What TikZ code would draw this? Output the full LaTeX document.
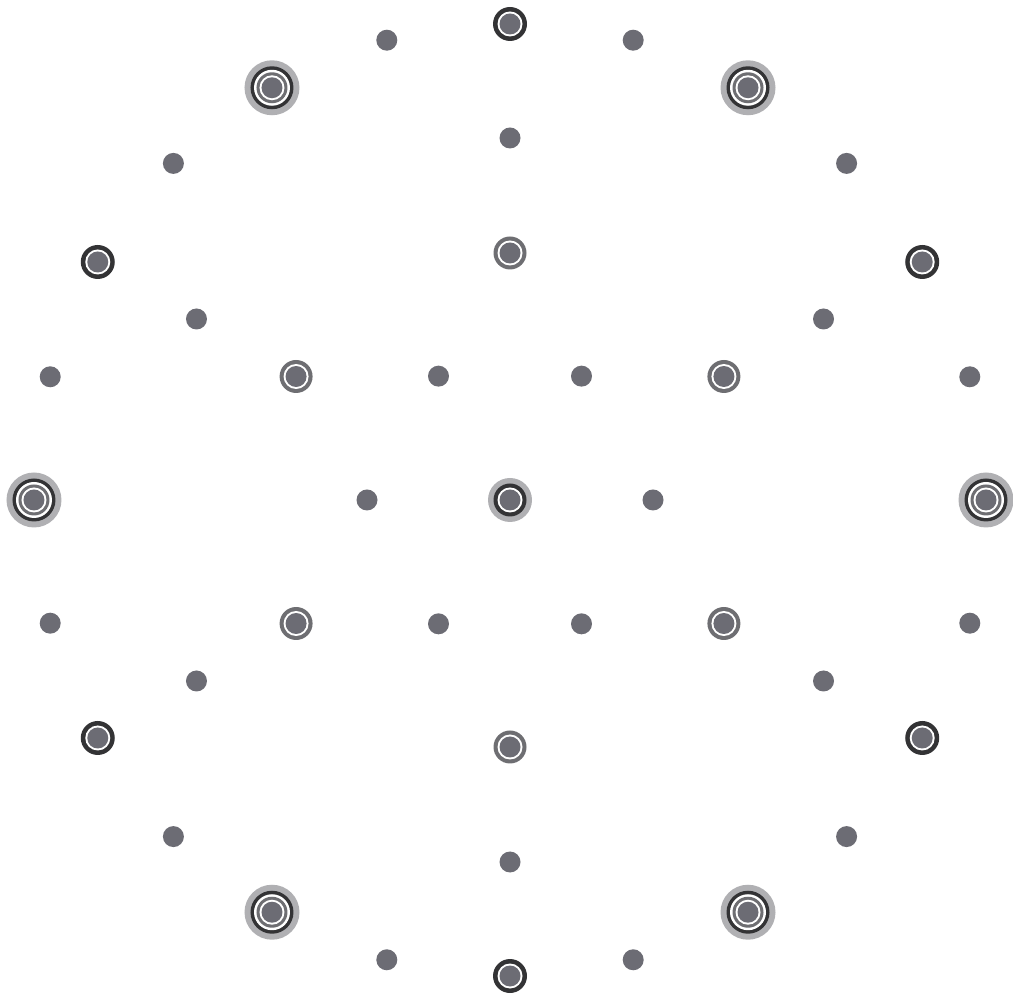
\documentclass[tikz,border=0pt]{standalone}
\usepackage{tikz}

\definecolor{dotgray}{HTML}{6C6C74}
\definecolor{ringdark}{HTML}{333335}
\definecolor{ringgray}{HTML}{6E6E72}
\definecolor{halogray}{HTML}{B0B0B3}

\begin{document}
\begin{tikzpicture}[
    x=0.01cm, y=0.01cm,
    dot/.style={fill=dotgray},
    gap/.style={fill=white},
    darkring/.style={fill=ringdark},
    grayring/.style={fill=ringgray},
    halo/.style={fill=halogray}
]
\useasboundingbox (-510,-504) rectangle (503,500);
% centre
\coordinate (c0) at (0,0);
% inner hexagon
\foreach \i in {0,...,5}{\coordinate (h\i) at (60*\i:143);}
% middle rings
\foreach \i in {0,...,5}{\coordinate (g\i) at (30+60*\i:247); \coordinate (m\i) at (30+60*\i:362);}
% outer ring
\foreach \i in {0,...,5}{\coordinate (d\i) at (60*\i:476); \coordinate (a\i) at (30+60*\i:476);}
\foreach \i in {0,...,11}{\coordinate (o\i) at (15+30*\i:476);}
% triple rings
\foreach \i in {0,...,5}{
  \fill[halo] (d\i) circle (27.5);
  \fill[darkring] (d\i) circle (21.5);
  \fill[gap] (d\i) circle (18);
  \fill[grayring] (d\i) circle (15.5);
  \fill[gap] (d\i) circle (12.5);
  \fill[dot] (d\i) circle (10.5);}
% dark single rings
\foreach \i in {0,...,5}{
  \fill[darkring] (a\i) circle (17);
  \fill[gap] (a\i) circle (12.5);
  \fill[dot] (a\i) circle (10.5);}
% grey single rings
\foreach \i in {0,...,5}{
  \fill[grayring] (g\i) circle (16.5);
  \fill[gap] (g\i) circle (12.5);
  \fill[dot] (g\i) circle (10.5);}
% centre spot
\fill[halo] (c0) circle (22);
\fill[darkring] (c0) circle (16.5);
\fill[gap] (c0) circle (12.5);
\fill[dot] (c0) circle (10.5);
% plain spots
\foreach \i in {0,...,5}{\fill[dot] (h\i) circle (10.5); \fill[dot] (m\i) circle (10.5);}
\foreach \i in {0,...,11}{\fill[dot] (o\i) circle (10.5);}
\end{tikzpicture}
\end{document}
